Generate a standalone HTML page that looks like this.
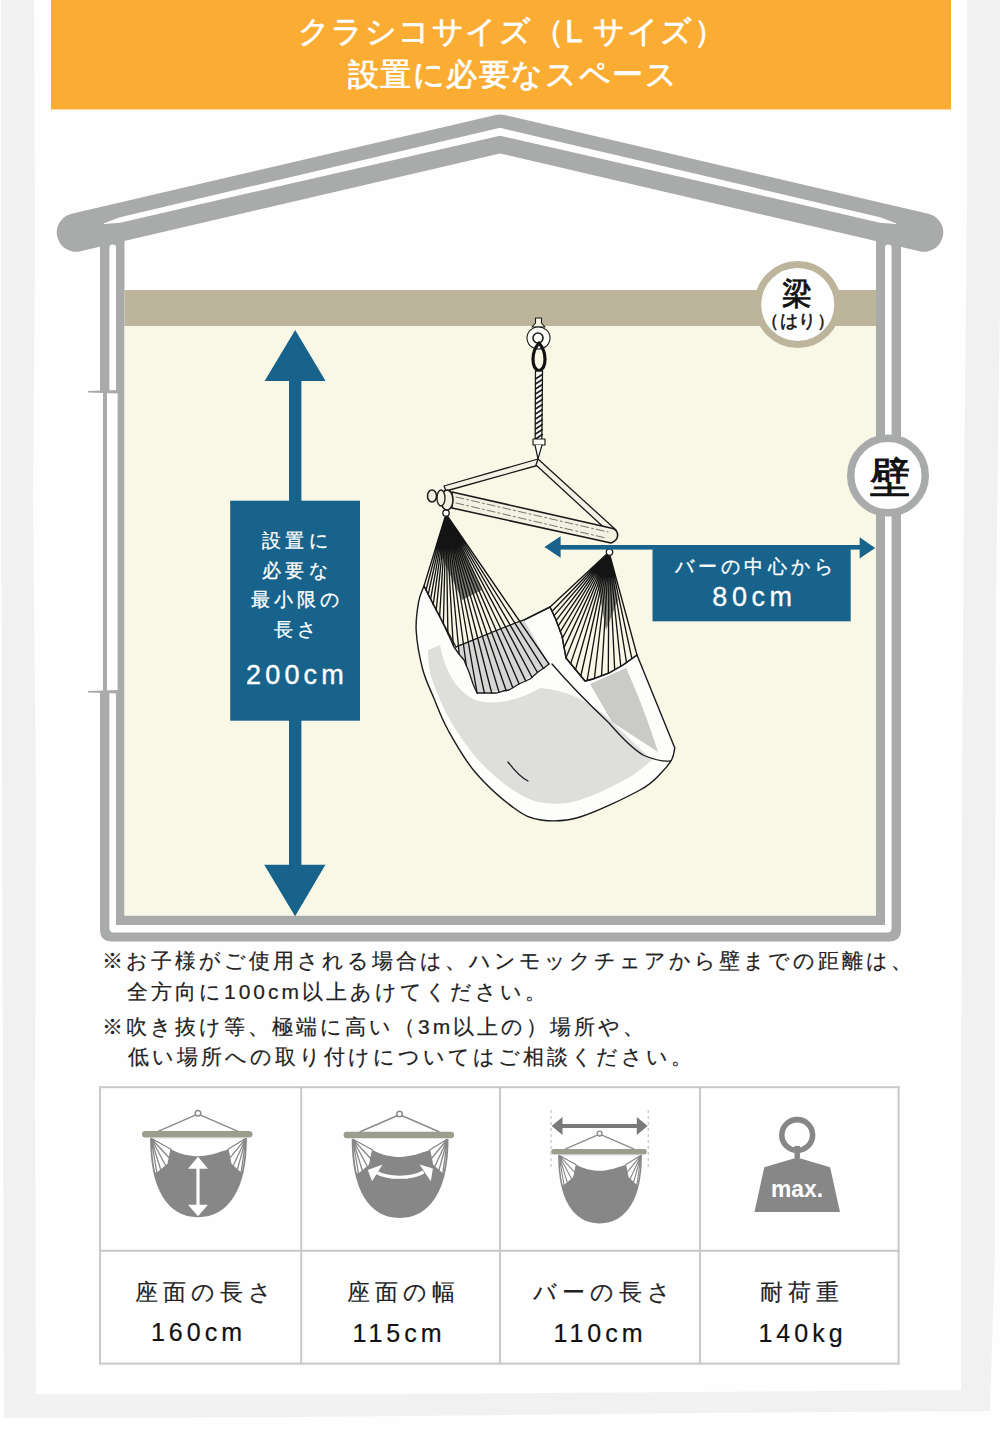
<!DOCTYPE html>
<html lang="ja">
<head>
<meta charset="utf-8">
<style>
html,body{margin:0;padding:0;}
body{width:1000px;height:1456px;position:relative;overflow:hidden;background:#fefefe;font-family:"Liberation Sans",sans-serif;color:#1e1e1e;}
.abs{position:absolute;white-space:nowrap;}
#title1,#title2{color:#fff;font-size:31px;line-height:34px;letter-spacing:1.6px;-webkit-text-stroke:0.75px #fff;}
.note{font-size:21px;line-height:24px;letter-spacing:3px;color:#222;-webkit-text-stroke:0.2px #222;}
.lbl{font-size:23px;line-height:26px;letter-spacing:5px;-webkit-text-stroke:0.15px #222;color:#222;text-align:center;}
.num{font-size:25px;line-height:26px;letter-spacing:4px;-webkit-text-stroke:0.2px #111;color:#111;text-align:center;}
.wht{color:#fff;}
</style>
</head>
<body>
<svg class="abs" style="left:0;top:0" width="1000" height="1456" viewBox="0 0 1000 1456">
  <!-- rough frame -->
  <polygon points="1,0 34,0 35,250 33,500 36,800 35,1100 36,1394 400,1394 700,1392 961,1390 961,1100 962,800 964,500 967,200 967,0 1000,0 1000,300 996,600 995,900 995,1250 990,1411 700,1413 300,1417 4,1418 3,1100 2,800 1,500" fill="#f1f1f1"/>
  <!-- orange header -->
  <rect x="51" y="0" width="900" height="109.5" fill="#fbac33"/>
  <!-- outer wall U -->
  <path fill="#a8abaa" fill-rule="evenodd" d="M100,210 L109.4,210 L109.4,392 L107,392 L107,692 L109.4,692 L109.4,928 Q109.4,932.6 114,932.6 L887,932.6 Q891.6,932.6 891.6,928 L891.6,210 L901,210 L901,929.6 Q901,941.6 889,941.6 L112,941.6 Q100,941.6 100,929.6 L100,692 L103,692 L103,392 L100,392 Z"/>
  <!-- inner wall U -->
  <path fill="#a8abaa" d="M116,210 L124.5,210 L124.5,915.5 L876,915.5 L876,210 L885,210 L885,925 L116,925 L116,692 L117.6,692 L117.6,392 L116,392 Z"/>
  <!-- ticks -->
  <path fill="#a8abaa" d="M88,391 L118,390 L118,393.5 L88,392.5 Z"/>
  <path fill="#a8abaa" d="M88,691 L118,690 L118,693.5 L88,692.5 Z"/>
  <!-- beam -->
  <rect x="124.5" y="290" width="751.5" height="36" fill="#bdb59b"/>
  <!-- cream interior -->
  <rect x="124.5" y="326" width="751.5" height="589.5" fill="#f9f8e7"/>

  <!-- hammock illustration -->
  <g id="hammock" stroke-linejoin="round" stroke-linecap="round">
    <!-- fabric body -->
    <path d="M424,586 C423.1,588.7 419.9,594.5 418.6,602 C417.3,609.5 415.5,619.8 416.2,631 C416.9,642.2 419.7,657.8 422.6,669 C425.5,680.2 429.6,687.8 433.8,698 C438.0,708.2 441.1,717.7 448,730 C454.9,742.3 464.0,759.0 475,772 C486.0,785.0 503.0,800.0 514,808 C525.0,816.0 530.0,818.5 541,820 C552.0,821.5 563.5,822.0 580,817 C596.5,812.0 626.3,797.5 640,790 C653.7,782.5 656.7,777.2 662,772 C667.3,766.8 669.9,763.0 672,759 C674.1,755.0 674.3,749.8 674.8,748 L637,655 L623,665 L609,673 L593,679 L585,681 L566,658 L562,636 L556,620 L550,607 L524,620 L456,647 L442,621 Z" fill="#fdfdfb" stroke="#1a1a1a" stroke-width="1.4"/>
    <!-- light gray shading -->
    <path d="M428,650 C428.3,653.7 428.0,663.7 430,672 C432.0,680.3 435.7,690.3 440,700 C444.3,709.7 449.0,719.3 456,730 C463.0,740.7 472.0,753.7 482,764 C492.0,774.3 505.5,785.5 516,792 C526.5,798.5 534.3,801.7 545,803 C555.7,804.3 566.2,804.2 580,800 C593.8,795.8 616.0,784.7 628,778 C640.0,771.3 648.0,763.0 652,760 L612,722 C590,700 565,690 540,688 C520,700 495,706 475,700 C455,690 445,670 440,645 Z" fill="#dededd"/>
    <path d="M590,684 L626,668 C636,690 648,720 658,752 L612,722 Z" fill="#cacac9"/>
    <path d="M456,647 C475,640 500,628 524,620 L549,664 L538,672 L509,690 L477,693 L464,660 Z" fill="#d6d6d5"/>
    <path d="M552,664 C570,685 590,705 609,723 C622,738 634,750 644,755.5 C655,760 663,762 670.6,761" fill="none" stroke="#1a1a1a" stroke-width="1.3"/>
    <path d="M508,762 C514,770 520,777 528,781" fill="none" stroke="#1a1a1a" stroke-width="1.3"/>
    <!-- fans -->
    <path d="M446,514L424.0,586.0M446,514L426.0,590.0M446,514L428.2,594.3M446,514L430.6,599.1M446,514L433.2,604.4M446,514L436.2,610.1M446,514L439.6,616.5M446,514L443.4,624.1M446,514L447.9,633.8M446,514L453.2,645.3M446,514L459.2,654.3M446,514L466.3,665.5M446,514L477.1,693.0M446,514L484.4,693.0M446,514L491.7,693.0M446,514L499.0,692.1M446,514L506.1,690.5M446,514L512.8,687.7M446,514L519.1,683.9M446,514L525.7,680.9M446,514L532.0,677.3M446,514L537.5,672.5M446,514L543.4,668.4M446,514L549.0,664.0" stroke="#141414" stroke-width="1.35" fill="none"/>
    <path d="M609,552L550.0,607.0M609,552L552.1,611.2M609,552L554.1,615.6M609,552L556.2,620.4M609,552L558.2,625.8M609,552L560.3,631.6M609,552L562.4,638.3M609,552L564.1,647.4M609,552L566.0,657.8M609,552L570.6,663.6M609,552L575.5,669.6M609,552L580.8,676.0M609,552L587.1,680.5M609,552L594.4,678.5M609,552L601.5,675.8M609,552L608.3,673.3M609,552L614.7,669.8M609,552L620.8,666.3M609,552L626.5,662.5M609,552L631.9,658.7M609,552L637.0,655.0" stroke="#141414" stroke-width="1.35" fill="none"/>
    <polyline points="424,586 433,604 442,621 448,634 454,647 459,654 464,660 469,672 473,684 477,693 486,693 496,693 503,691 509,690 519,684 530,679 538,672 544,668 549,664" fill="none" stroke="#1a1a1a" stroke-width="1.3"/>
    <polyline points="550,607 553,613 556,620 559,628 562,636 564,647 566,658 575,669 585,681 593,679 601,676 609,673 616,669 623,665 630,660 637,655" fill="none" stroke="#1a1a1a" stroke-width="1.3"/>
    <path d="M456,647 C475,640 500,628 524,620 L550,607" fill="none" stroke="#1a1a1a" stroke-width="1.2"/>
    <!-- dense dark near rings -->
    
    
    <path d="M446,514 L436,545 L462,600 L482,590 Z" fill="#141414" opacity="0.55"/>
    <path d="M609,552 L596,575 L606,630 L618,600 Z" fill="#141414" opacity="0.5"/>
    <circle cx="446" cy="513" r="3.2" fill="#fff" stroke="#1a1a1a" stroke-width="1.3"/>
    <circle cx="609.5" cy="552" r="3.2" fill="#fff" stroke="#1a1a1a" stroke-width="1.3"/>
    <!-- ropes to bar -->
    <path d="M538,459 L444,486 L446,491 L539,465 Z" fill="#f4f2e4" stroke="#1a1a1a" stroke-width="1.3"/>
    <path d="M538,459 L616,530 L611,534 L536,465 Z" fill="#f4f2e4" stroke="#1a1a1a" stroke-width="1.3"/>
    <!-- bar -->
    <path d="M452,492 L613,528.5 C619,531 620,540 611,543 L452,508 Z" fill="#f3f1e1" stroke="#1a1a1a" stroke-width="1.6"/>
    <path d="M456,497 L608,532 M456,503 L606,538" stroke="#555" stroke-width="0.8" stroke-dasharray="8 3 2 3" fill="none"/>
    
    <ellipse cx="447" cy="500" rx="6" ry="10" fill="#f3f1e1" stroke="#1a1a1a" stroke-width="1.6"/><ellipse cx="441" cy="498" rx="4" ry="8" fill="#f3f1e1" stroke="#1a1a1a" stroke-width="1.3"/>
    <ellipse cx="432" cy="496" rx="4.5" ry="6" fill="#f3f1e1" stroke="#1a1a1a" stroke-width="1.5"/>
    <!-- hook, carabiner, rope -->
    <path d="M535.5,318 L541.5,318 L541.5,323 L545,327 L532,327 L535.5,323 Z" fill="#f3f1e1" stroke="#1a1a1a" stroke-width="1.1"/>
    <ellipse cx="538.5" cy="338" rx="11.5" ry="11" fill="#fdfdf8" stroke="#1a1a1a" stroke-width="1.1"/>
    <circle cx="538" cy="338" r="5" fill="none" stroke="#1a1a1a" stroke-width="1.6"/>
    <path d="M539,343 C531,352 531,368 539,371 C547,368 547,352 539,343 Z" fill="none" stroke="#111" stroke-width="3.2"/>
    <path d="M535.5,371 L535.2,440 L541.8,440 L542.5,371 Z" fill="#fdfdf8" stroke="#1a1a1a" stroke-width="1.3"/>
    <path d="M535.5,379.0L542.3,374.5M535.5,384.0L542.3,379.5M535.5,389.0L542.3,384.5M535.5,394.0L542.3,389.5M535.5,399.0L542.3,394.5M535.5,404.0L542.3,399.5M535.5,409.0L542.3,404.5M535.5,414.0L542.3,409.5M535.5,419.0L542.3,414.5M535.5,424.0L542.3,419.5M535.5,429.0L542.3,424.5M535.5,434.0L542.3,429.5M535.5,439.0L542.3,434.5" stroke="#1a1a1a" stroke-width="1.5"/>
    <rect x="533" y="439" width="12" height="6" fill="#fdfdf8" stroke="#1a1a1a" stroke-width="1.2"/>
    <path d="M535,445 L538,459 L542,445" fill="#fdfdf8" stroke="#1a1a1a" stroke-width="1.2"/>
  </g>
  <!-- roof -->
  <path fill="#a8abaa" d="M109.2,236 L116.2,236 L116.2,248 A3.5,3.5 0 0 0 109.2,248 Z M884.8,236 L891.8,236 L891.8,248 A3.5,3.5 0 0 0 884.8,248 Z"/>

  <polyline points="76,232.5 500,133.7 924,232.5" fill="none" stroke="#a8abaa" stroke-width="38.5" stroke-linecap="round" stroke-linejoin="round"/>
  <polygon points="104.0,223.2 120.0,217.2 250.0,186.6 500.0,127.8 750.0,186.6 880.0,217.2 896.0,223.2 896.0,224.1 880.0,222.8 750.0,192.8 500.0,135.8 250.0,192.8 120.0,222.8 104.0,224.1" fill="#fefefe"/>
  <!-- beam circle -->
  <circle cx="797.7" cy="304.5" r="40" fill="#fefefe" stroke="#bdb59b" stroke-width="7"/>
  <!-- wall circle -->
  <circle cx="888" cy="475.5" r="37.25" fill="#fefefe" stroke="#a8abaa" stroke-width="7.5"/>

  <!-- vertical blue arrow -->
  <g fill="#17638b">
    <polygon points="295.2,330 325.6,381 264.6,381"/>
    <rect x="289" y="380" width="12.4" height="486"/>
    <polygon points="264.2,864.8 325.4,864.8 295.1,916.2"/>
    <rect x="230.2" y="500.7" width="129.8" height="220"/>
  </g>
  <!-- horizontal blue arrow -->
  <g fill="#17638b">
    <polygon points="544.4,547 560.6,536.2 560.6,557.8"/>
    <rect x="558" y="545" width="303" height="4.6"/>
    <polygon points="875.2,548 859.6,537.3 859.6,558.6"/>
    <rect x="652.5" y="545.2" width="198.2" height="76.1"/>
  </g>


  <!-- icons -->
  
  <g transform="translate(198,1113.3)">
    
      <circle cx="0" cy="0" r="2.8" fill="none" stroke="#8c8c8c" stroke-width="1.5"/>
      <path d="M-2,1.5 L-40,18 M2,1.5 L40,18" stroke="#8c8c8c" stroke-width="1.4" fill="none"/>
      <path d="M-47,25 C-47,75 -30,103 0,103 C30,103 48,75 48,25 Z" fill="#878787"/>
      <path d="M-47,25 L-27,36 C-18,41 -8,43 0,43 C10,43 22,39 30,36 L48,25 Z" fill="#fff"/>
      <path d="M-47,25 L-27,36 L-30,51 L-41,60 L-44.5,58 C-46.5,48 -47,36 -47,25 Z" fill="#fff"/>
      <path d="M48,25 L30,36 L33,51 L43,60 L45.5,58 C47.5,48 48,36 48,25 Z" fill="#fff"/>
      <path d="M-47,25 L-27,36 M-47,25 L-28.5,45 M-47,25 L-32,53 M-47,25 L-37,57.5 M-47,25 L-41,60 M-27,36 L-30,51 L-41,60 M48,25 L30,36 M48,25 L31.5,45 M48,25 L35,53 M48,25 L39,57.5 M48,25 L43,60 M30,36 L33,51 L43,60" stroke="#878787" stroke-width="1.3" fill="none"/>
      <path d="M-47,25 C-47,75 -30,103 0,103 C30,103 48,75 48,25" stroke="#878787" stroke-width="1.8" fill="none"/>
      <rect x="-56" y="17.8" width="110.5" height="6.4" rx="3.2" fill="#9b9d8d"/>
    
    <path d="M-1.6,55 L1.6,55 L1.6,92 L-1.6,92 Z M0,43.5 L10,55.5 L-10,55.5 Z M-10,91.5 L10,91.5 L0,103 Z" fill="#fff"/>
  </g>
  <g transform="translate(399.6,1114)">
    
      <circle cx="0" cy="0" r="2.8" fill="none" stroke="#8c8c8c" stroke-width="1.5"/>
      <path d="M-2,1.5 L-40,18 M2,1.5 L40,18" stroke="#8c8c8c" stroke-width="1.4" fill="none"/>
      <path d="M-47,25 C-47,75 -30,103 0,103 C30,103 48,75 48,25 Z" fill="#878787"/>
      <path d="M-47,25 L-27,36 C-18,41 -8,43 0,43 C10,43 22,39 30,36 L48,25 Z" fill="#fff"/>
      <path d="M-47,25 L-27,36 L-30,51 L-41,60 L-44.5,58 C-46.5,48 -47,36 -47,25 Z" fill="#fff"/>
      <path d="M48,25 L30,36 L33,51 L43,60 L45.5,58 C47.5,48 48,36 48,25 Z" fill="#fff"/>
      <path d="M-47,25 L-27,36 M-47,25 L-28.5,45 M-47,25 L-32,53 M-47,25 L-37,57.5 M-47,25 L-41,60 M-27,36 L-30,51 L-41,60 M48,25 L30,36 M48,25 L31.5,45 M48,25 L35,53 M48,25 L39,57.5 M48,25 L43,60 M30,36 L33,51 L43,60" stroke="#878787" stroke-width="1.3" fill="none"/>
      <path d="M-47,25 C-47,75 -30,103 0,103 C30,103 48,75 48,25" stroke="#878787" stroke-width="1.8" fill="none"/>
      <rect x="-56" y="17.8" width="110.5" height="6.4" rx="3.2" fill="#9b9d8d"/>
    
    <path d="M-24,58 C-12,65 12,65 24,58" stroke="#fff" stroke-width="3.2" fill="none"/>
    <path d="M-31.8,56 L-17,50.4 L-27.6,67.2 Z M33.3,54.6 L20,50.4 L31.2,67.2 Z" fill="#fff"/>
  </g>
  <g transform="translate(599.6,1133.6) scale(0.865)">
    
      <circle cx="0" cy="0" r="2.8" fill="none" stroke="#8c8c8c" stroke-width="1.5"/>
      <path d="M-2,1.5 L-40,18 M2,1.5 L40,18" stroke="#8c8c8c" stroke-width="1.4" fill="none"/>
      <path d="M-47,25 C-47,75 -30,103 0,103 C30,103 48,75 48,25 Z" fill="#878787"/>
      <path d="M-47,25 L-27,36 C-18,41 -8,43 0,43 C10,43 22,39 30,36 L48,25 Z" fill="#fff"/>
      <path d="M-47,25 L-27,36 L-30,51 L-41,60 L-44.5,58 C-46.5,48 -47,36 -47,25 Z" fill="#fff"/>
      <path d="M48,25 L30,36 L33,51 L43,60 L45.5,58 C47.5,48 48,36 48,25 Z" fill="#fff"/>
      <path d="M-47,25 L-27,36 M-47,25 L-28.5,45 M-47,25 L-32,53 M-47,25 L-37,57.5 M-47,25 L-41,60 M-27,36 L-30,51 L-41,60 M48,25 L30,36 M48,25 L31.5,45 M48,25 L35,53 M48,25 L39,57.5 M48,25 L43,60 M30,36 L33,51 L43,60" stroke="#878787" stroke-width="1.3" fill="none"/>
      <path d="M-47,25 C-47,75 -30,103 0,103 C30,103 48,75 48,25" stroke="#878787" stroke-width="1.8" fill="none"/>
      <rect x="-56" y="17.8" width="110.5" height="6.4" rx="3.2" fill="#9b9d8d"/>
    
  </g>
  <g>
    <path d="M551,1110 L551,1167 M648.3,1110 L648.3,1167" stroke="#c8c8c8" stroke-width="1.3" stroke-dasharray="3 3" fill="none"/>
    <rect x="560" y="1124" width="80" height="4" fill="#7a7a7a"/>
    <path d="M551.7,1126 L562.5,1117 L562.5,1135 Z M647.6,1126 L636.8,1117 L636.8,1135 Z" fill="#7a7a7a"/>
  </g>
  <g fill="#878787">
    <circle cx="797.2" cy="1135" r="15.4" fill="none" stroke="#878787" stroke-width="5.6"/>
    <rect x="794.5" y="1146" width="5.4" height="12"/>
    <path d="M797.2,1157.4 L830.1,1167.2 L840,1212 L754.5,1212 L764.3,1167.2 Z"/>
  </g>
  <text x="797" y="1197.3" text-anchor="middle" font-family="Liberation Sans" font-weight="bold" font-size="23" fill="#fff" textLength="52" lengthAdjust="spacingAndGlyphs">max.</text>
  <!-- table -->
  <g fill="#c9c9c9">
    <rect x="99" y="1086.2" width="800.6" height="2"/>
    <rect x="99" y="1362.6" width="800.6" height="2"/>
    <rect x="99" y="1086.2" width="2" height="278.4"/>
    <rect x="897.6" y="1086.2" width="2" height="278.4"/>
    <rect x="300.2" y="1086.2" width="2" height="278.4"/>
    <rect x="499" y="1086.2" width="2" height="278.4"/>
    <rect x="699" y="1086.2" width="2" height="278.4"/>
    <rect x="99" y="1249.8" width="800.6" height="2"/>
  </g>
</svg>

<div id="title1" class="abs" style="left:297.5px;top:15px;">クラシコサイズ（L サイズ）</div>
<div id="title2" class="abs" style="left:347.5px;top:58px;">設置に必要なスペース</div>

<div class="abs" style="left:870px;top:454px;font-size:40px;line-height:46px;font-weight:normal;-webkit-text-stroke:1.1px #111;color:#111;">壁</div>
<div class="abs" style="left:782px;top:277px;font-size:30px;line-height:33px;font-weight:normal;-webkit-text-stroke:0.8px #111;color:#111;">梁</div>
<div class="abs" style="left:761px;top:310px;font-size:18px;line-height:22px;font-weight:normal;-webkit-text-stroke:0.5px #111;letter-spacing:0.5px;color:#111;">（はり）</div>

<div class="abs wht" style="left:232px;top:526px;width:130px;text-align:center;font-size:19px;line-height:29.6px;letter-spacing:4.2px;-webkit-text-stroke:0.3px #fff;">設置に<br>必要な<br>最小限の<br>長さ</div>
<div class="abs wht" style="left:232px;top:660px;width:130px;text-align:center;font-size:27px;line-height:30px;letter-spacing:4.2px;-webkit-text-stroke:0.4px #fff;">200cm</div>

<div class="abs wht" style="left:657px;top:555px;width:198px;text-align:center;font-size:19px;line-height:24px;letter-spacing:4.1px;-webkit-text-stroke:0.3px #fff;">バーの中心から</div>
<div class="abs wht" style="left:655.5px;top:583px;width:198px;text-align:center;font-size:27px;line-height:28px;letter-spacing:4.6px;-webkit-text-stroke:0.3px #fff;">80cm</div>

<div class="abs note" style="left:102px;top:949px;">※お子様がご使用される場合は、ハンモックチェアから壁までの距離は、</div>
<div class="abs note" style="left:127px;top:980px;">全方向に100cm以上あけてください。</div>
<div class="abs note" style="left:102px;top:1015px;">※吹き抜け等、極端に高い（3m以上の）場所や、</div>
<div class="abs note" style="left:127.5px;top:1045px;">低い場所への取り付けについてはご相談ください。</div>

<div class="abs lbl" style="left:106px;top:1279px;width:199px;">座面の長さ</div>
<div class="abs lbl" style="left:305px;top:1279px;width:197px;">座面の幅</div>
<div class="abs lbl" style="left:505px;top:1279px;width:198px;">バーの長さ</div>
<div class="abs lbl" style="left:703.5px;top:1279px;width:197px;">耐荷重</div>
<div class="abs num" style="left:99px;top:1319px;width:199px;">160cm</div>
<div class="abs num" style="left:300.5px;top:1320px;width:197px;">115cm</div>
<div class="abs num" style="left:501px;top:1320px;width:198px;">110cm</div>
<div class="abs num" style="left:704px;top:1320px;width:197px;">140kg</div>
</body>
</html>
